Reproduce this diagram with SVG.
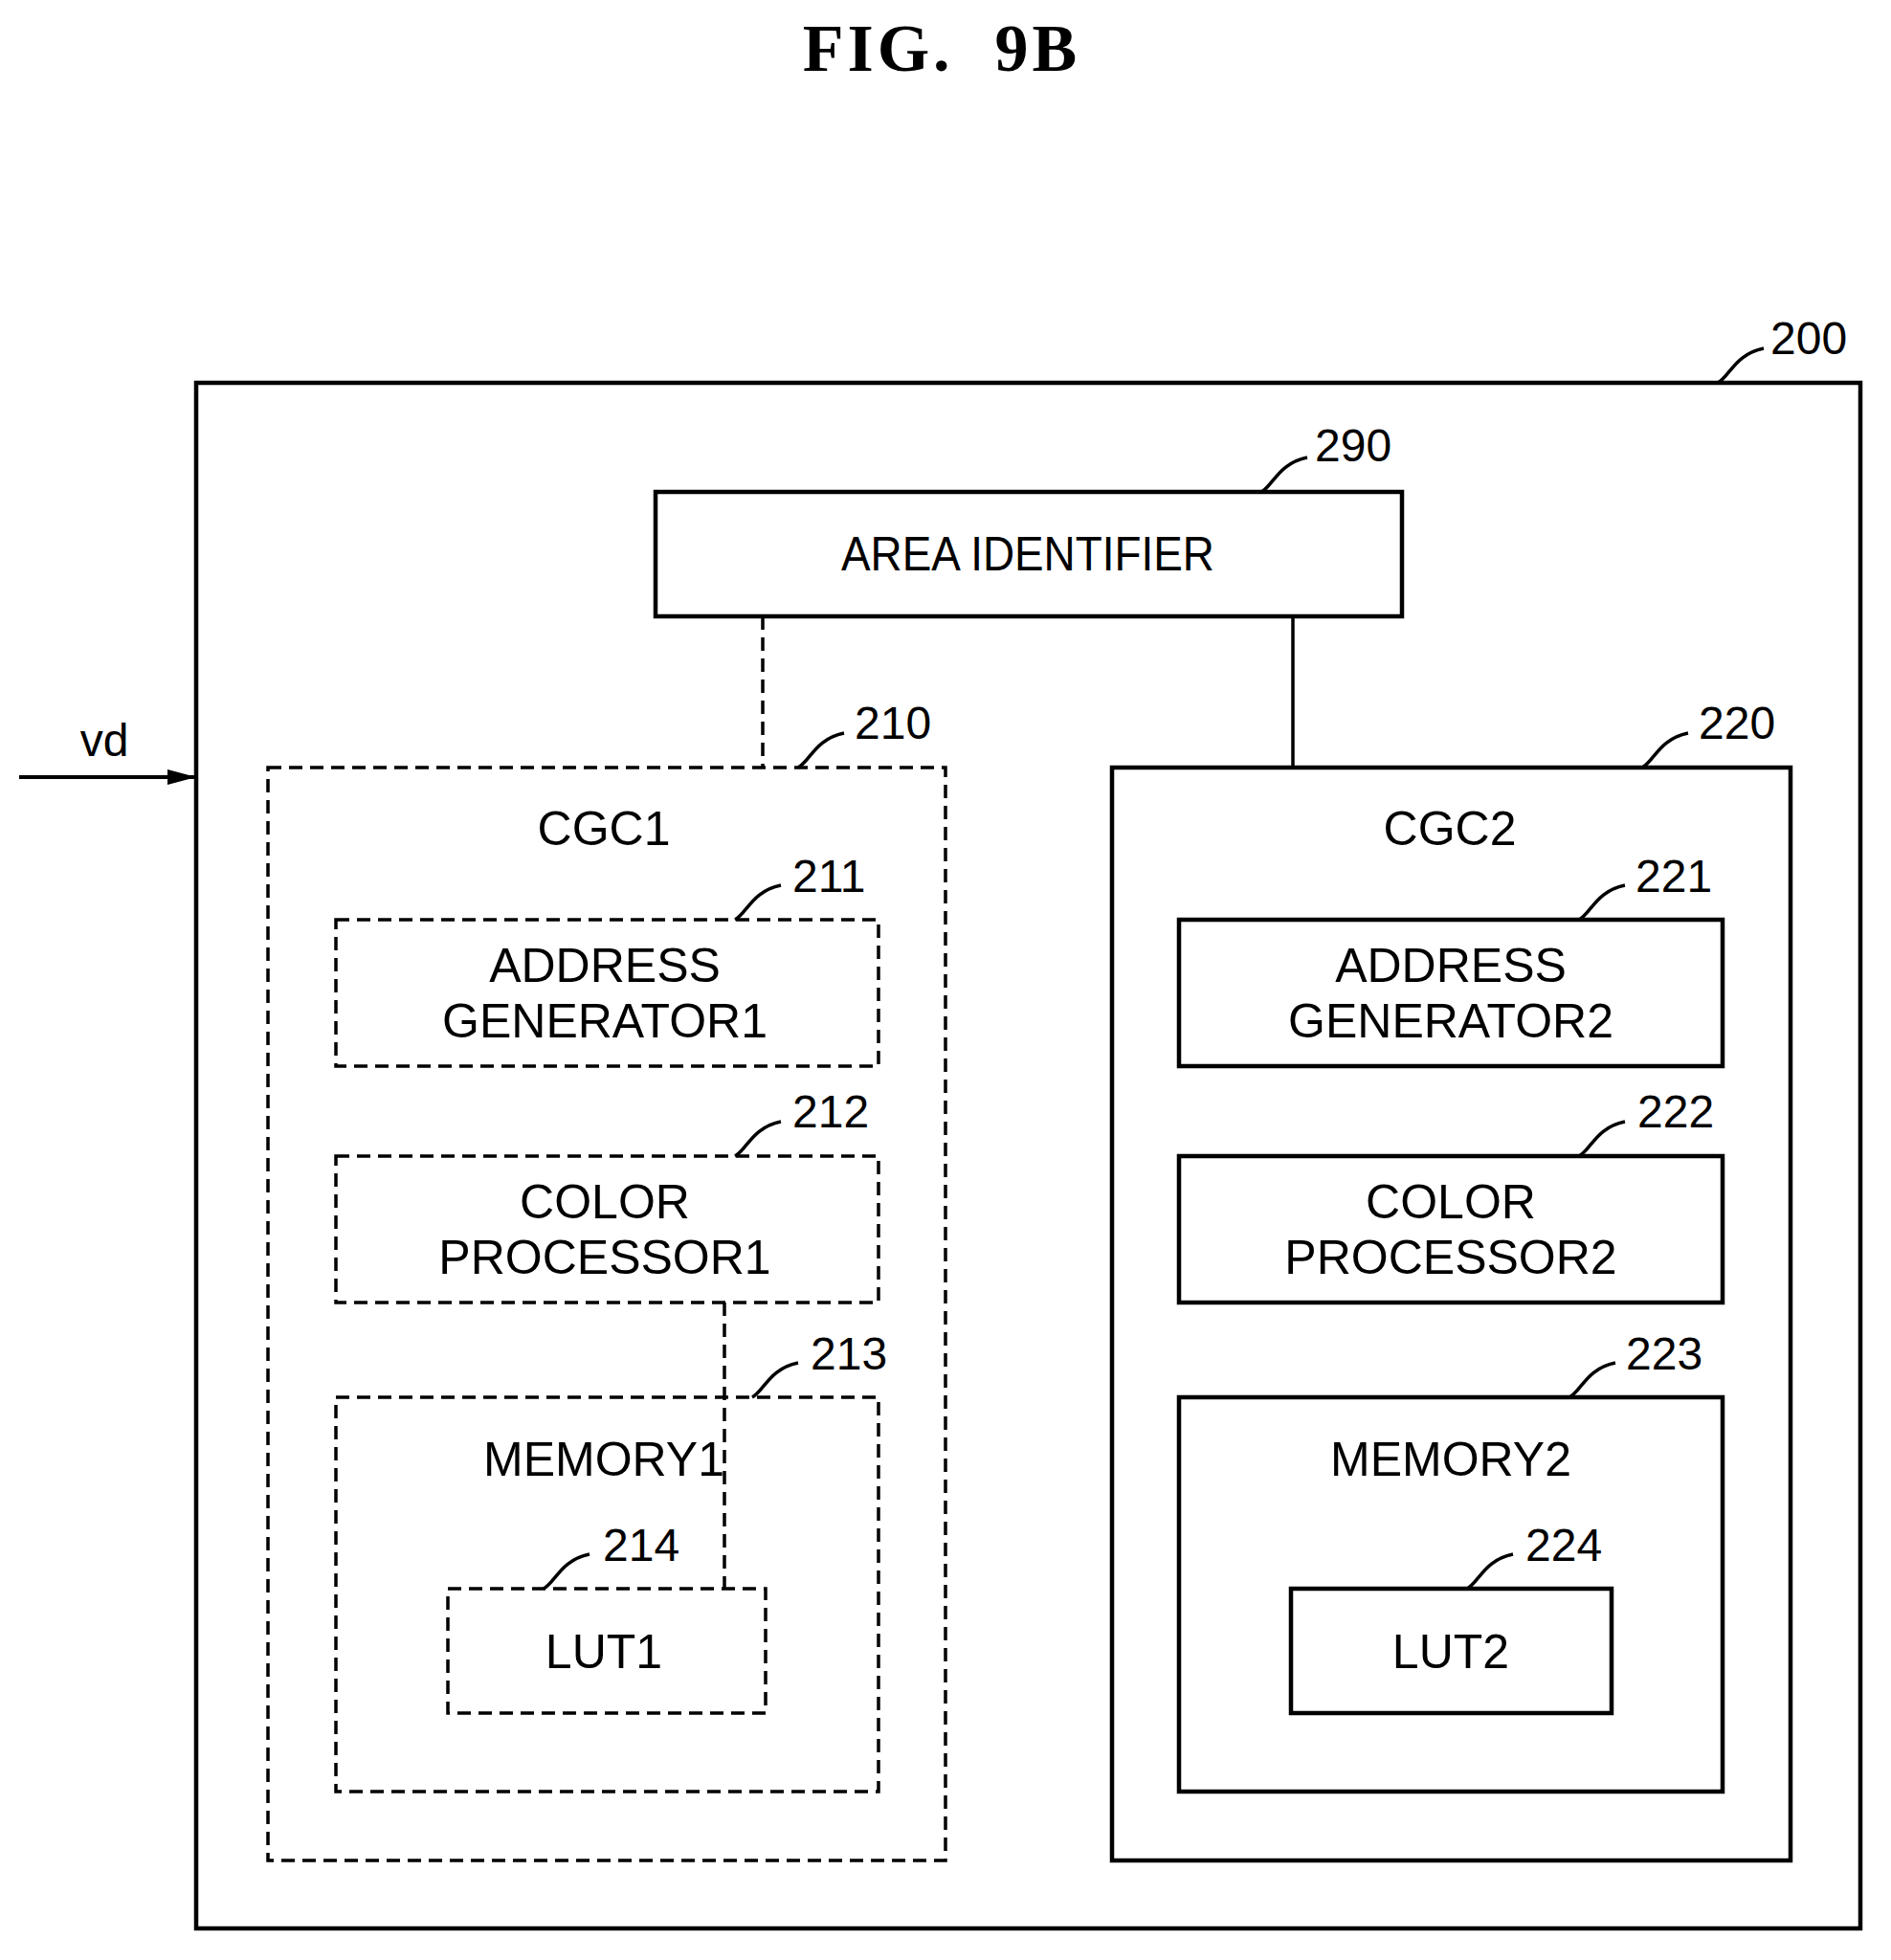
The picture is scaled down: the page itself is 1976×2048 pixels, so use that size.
<svg xmlns="http://www.w3.org/2000/svg" width="1976" height="2048" viewBox="0 0 1976 2048">
<style>
.b{fill:none;stroke:#000;stroke-width:4.5}
.d{fill:none;stroke:#000;stroke-width:3.5;stroke-dasharray:14 8}
.l{fill:none;stroke:#000;stroke-width:3.5}
.t{font-family:"Liberation Sans",Arial,sans-serif;font-size:50px;text-anchor:middle;fill:#000}
.n{font-family:"Liberation Sans",Arial,sans-serif;font-size:48px;fill:#000}
</style>
<defs><marker id="a" markerWidth="30" markerHeight="16" refX="30" refY="8" orient="auto" markerUnits="userSpaceOnUse" viewBox="0 0 30 16"><path d="M0,0 L30,8 L0,16 z"/></marker></defs>
<rect width="1976" height="2048" fill="#fff"/>
<text x="984" y="74" text-anchor="middle" font-family="Liberation Serif,serif" font-weight="bold" font-size="70" letter-spacing="4" xml:space="preserve">FIG.  9B</text>
<g id="n200"><rect class="b" x="205" y="400" width="1739" height="1615"/><path class="l" d="M1795,400 c12,-6 18,-30 48,-36"/><text class="n" x="1850" y="370">200</text></g>
<g id="n290"><rect class="b" x="685" y="514" width="780" height="130"/><text class="t" x="1074" y="596" textLength="390" lengthAdjust="spacingAndGlyphs">AREA IDENTIFIER</text><path class="l" d="M1318,514 c12,-6 18,-30 48,-36"/><text class="n" x="1374" y="482">290</text></g>
<g id="n210"><rect class="d" x="280" y="802" width="708" height="1142"/><text class="t" x="631" y="883">CGC1</text><path class="l" d="M834,802 c12,-6 18,-30 48,-36"/><text class="n" x="893" y="772">210</text></g>
<g id="n220"><rect class="b" x="1162" y="802" width="709" height="1142"/><text class="t" x="1515" y="883">CGC2</text><path class="l" d="M1716,802 c12,-6 18,-30 48,-36"/><text class="n" x="1775" y="772">220</text></g>
<g id="n211"><rect class="d" x="351" y="961" width="567" height="153"/><text class="t" x="632" y="1026">ADDRESS</text><text class="t" x="632" y="1084">GENERATOR1</text><path class="l" d="M768,961 c12,-6 18,-30 48,-36"/><text class="n" x="828" y="932">211</text></g>
<g id="n221"><rect class="b" x="1232" y="961" width="568" height="153"/><text class="t" x="1516" y="1026">ADDRESS</text><text class="t" x="1516" y="1084">GENERATOR2</text><path class="l" d="M1650,961 c12,-6 18,-30 48,-36"/><text class="n" x="1709" y="932">221</text></g>
<g id="n212"><rect class="d" x="351" y="1208" width="567" height="153"/><text class="t" x="632" y="1273">COLOR</text><text class="t" x="632" y="1331">PROCESSOR1</text><path class="l" d="M768,1208 c12,-6 18,-30 48,-36"/><text class="n" x="828" y="1178">212</text></g>
<g id="n222"><rect class="b" x="1232" y="1208" width="568" height="153"/><text class="t" x="1516" y="1273">COLOR</text><text class="t" x="1516" y="1331">PROCESSOR2</text><path class="l" d="M1650,1208 c12,-6 18,-30 48,-36"/><text class="n" x="1711" y="1178">222</text></g>
<g id="n213"><rect class="d" x="351" y="1460" width="567" height="412"/><text class="t" x="631" y="1542">MEMORY1</text><path class="l" d="M786,1460 c12,-6 18,-30 48,-36"/><text class="n" x="847" y="1431">213</text></g>
<g id="n223"><rect class="b" x="1232" y="1460" width="568" height="412"/><text class="t" x="1516" y="1542">MEMORY2</text><path class="l" d="M1640,1460 c12,-6 18,-30 48,-36"/><text class="n" x="1699" y="1431">223</text></g>
<g id="n214"><rect class="d" x="468" y="1660" width="332" height="130"/><text class="t" x="631" y="1743">LUT1</text><path class="l" d="M568,1660 c12,-6 18,-30 48,-36"/><text class="n" x="630" y="1631">214</text></g>
<g id="n224"><rect class="b" x="1349" y="1660" width="335" height="130"/><text class="t" x="1516" y="1743">LUT2</text><path class="l" d="M1533,1660 c12,-6 18,-30 48,-36"/><text class="n" x="1594" y="1631">224</text></g>
<g id="connectors">
<path class="d" d="M797,644 V802"/>
<path class="l" d="M1351,644 V802"/>
<path class="d" d="M757,1361 V1660"/>
<path stroke="#000" stroke-width="4" d="M20,812 H205" marker-end="url(#a)"/>
<text class="n" x="109" y="790" text-anchor="middle">vd</text>
</g>
</svg>
